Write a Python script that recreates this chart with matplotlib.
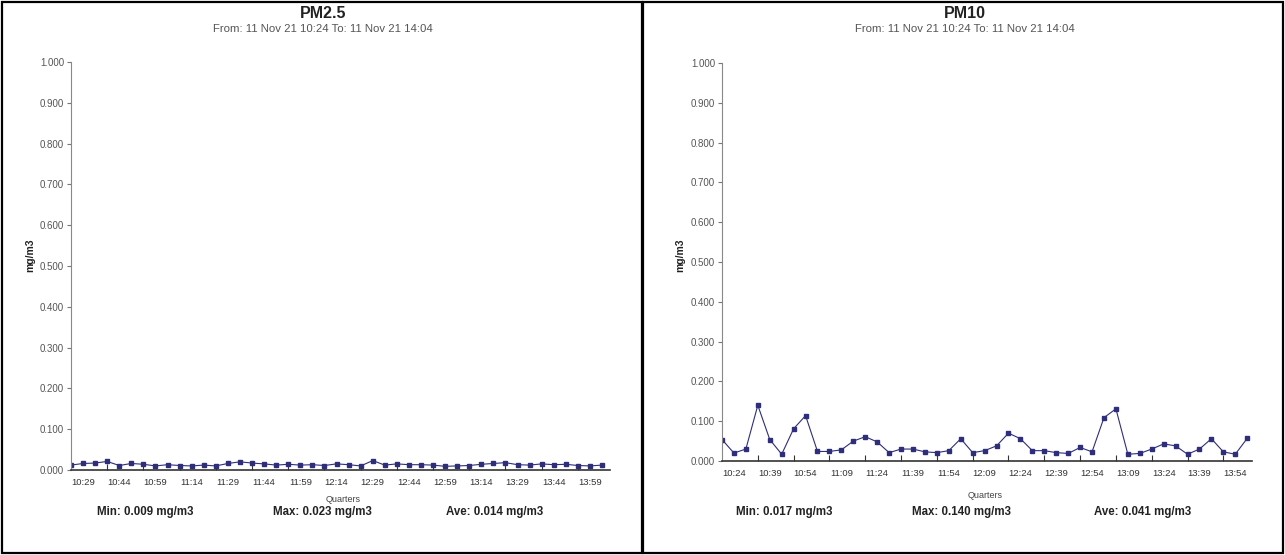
"""PM2.5 / PM10 quarter-hour report panels."""

import matplotlib
matplotlib.use("Agg")
import matplotlib.pyplot as plt
from matplotlib.patches import Rectangle
import numpy as np

plt.rcParams["font.family"] = ["Liberation Sans", "DejaVu Sans"]

# ---------------------------------------------------------------------------
# Data
# ---------------------------------------------------------------------------
subtitle = "From: 11 Nov 21 10:24 To: 11 Nov 21 14:04"

pm25_values = [
    0.012, 0.016, 0.017, 0.021, 0.011, 0.016, 0.014, 0.010, 0.013, 0.011,
    0.010, 0.012, 0.010, 0.016, 0.020, 0.017, 0.015, 0.012, 0.014, 0.012,
    0.013, 0.011, 0.015, 0.013, 0.010, 0.023, 0.012, 0.015, 0.013, 0.013,
    0.012, 0.009, 0.010, 0.011, 0.014, 0.016, 0.018, 0.013, 0.012, 0.015,
    0.013, 0.014, 0.011, 0.010, 0.012,
]
pm25_labels = ["10:29", "10:44", "10:59", "11:14", "11:29", "11:44", "11:59",
               "12:14", "12:29", "12:44", "12:59", "13:14", "13:29", "13:44",
               "13:59"]
pm25_stats = ["Min: 0.009 mg/m3", "Max: 0.023 mg/m3", "Ave: 0.014 mg/m3"]

pm10_values = [
    0.054, 0.020, 0.030, 0.140, 0.054, 0.017, 0.081, 0.114, 0.024, 0.024,
    0.028, 0.050, 0.061, 0.048, 0.021, 0.030, 0.030, 0.023, 0.021, 0.026,
    0.056, 0.021, 0.026, 0.038, 0.070, 0.056, 0.026, 0.026, 0.021, 0.019,
    0.034, 0.023, 0.109, 0.131, 0.017, 0.019, 0.030, 0.043, 0.038, 0.017,
    0.030, 0.056, 0.023, 0.017, 0.057,
]
pm10_labels = ["10:24", "10:39", "10:54", "11:09", "11:24", "11:39", "11:54",
               "12:09", "12:24", "12:39", "12:54", "13:09", "13:24", "13:39",
               "13:54"]
pm10_stats = ["Min: 0.017 mg/m3", "Max: 0.140 mg/m3", "Ave: 0.041 mg/m3"]

W, H = 1285, 555
LINE_COLOR = "#2e2e7a"


def px(x, y):
    """Pixel (from top-left) -> figure fraction."""
    return x / W, 1 - y / H


def draw_panel(fig, rect, xmax, values, labels, title, stats,
               title_x, ylabel_x, quarters_y, stats_x):
    ax = fig.add_axes(rect)
    x = np.arange(len(values))
    ax.plot(x, values, color=LINE_COLOR, linewidth=0.8, marker="s",
            markersize=2.2, markerfacecolor=LINE_COLOR,
            markeredgecolor=LINE_COLOR)

    ax.set_xlim(0, xmax)
    ax.set_ylim(0, 1.0)
    ax.set_yticks(np.arange(0, 1.0001, 0.1))
    ax.set_yticklabels([f"{v:.3f}" for v in np.arange(0, 1.0001, 0.1)])

    # ticks every 3 points, labels sit one point after each group start
    ax.set_xticks(np.arange(3, len(values) - 1, 3))
    ax.set_xticklabels([])
    ax.set_xticks(np.arange(1, len(values), 3), labels, minor=True)
    ax.tick_params(axis="x", which="major", direction="in", length=4,
                   color="#333333")
    ax.tick_params(axis="x", which="minor", length=0, labelsize=6.8,
                   labelcolor="#333333", pad=6)
    ax.tick_params(axis="y", direction="out", length=3, color="#777777",
                   labelsize=7, labelcolor="#555555", pad=2)

    for side in ("top", "right"):
        ax.spines[side].set_visible(False)
    ax.spines["left"].set_color("#888888")
    ax.spines["bottom"].set_color("#333333")
    ax.spines["bottom"].set_linewidth(1.2)

    fig.text(*px(title_x, 14), title, ha="center", va="center",
             fontsize=11.5, fontweight="bold", color="#222222")
    fig.text(*px(title_x, 29), subtitle, ha="center", va="center",
             fontsize=8.2, color="#555555")
    fig.text(*px(ylabel_x, 255), "mg/m3", ha="center", va="center",
             rotation=90, fontsize=7.5, fontweight="bold", color="#222222")
    fig.text(*px(title_x + 20, quarters_y), "Quarters", ha="center",
             va="center", fontsize=6.5, color="#444444")
    for sx, s in zip(stats_x, stats):
        fig.text(*px(sx, 512), s, ha="center", va="center", fontsize=8.3,
                 fontweight="bold", color="#222222")
    return ax


fig = plt.figure(figsize=(W / 100, H / 100), dpi=100)

# panel frames
fig.add_artist(Rectangle(px(2, 553), 640 / W, 551 / H, fill=False,
                         edgecolor="black", linewidth=1.6,
                         transform=fig.transFigure))
fig.add_artist(Rectangle(px(643, 553), 640 / W, 551 / H, fill=False,
                         edgecolor="black", linewidth=1.6,
                         transform=fig.transFigure))

draw_panel(fig, [71 / W, 1 - 470 / H, 539 / W, 408 / H], 44.66,
           pm25_values, pm25_labels, "PM2.5", pm25_stats,
           title_x=323, ylabel_x=30, quarters_y=500,
           stats_x=[145, 322, 495])

draw_panel(fig, [722 / W, 1 - 461 / H, 530 / W, 398 / H], 44.4,
           pm10_values, pm10_labels, "PM10", pm10_stats,
           title_x=965, ylabel_x=680, quarters_y=496,
           stats_x=[784, 962, 1143])

fig.savefig("out.png", dpi=100)
